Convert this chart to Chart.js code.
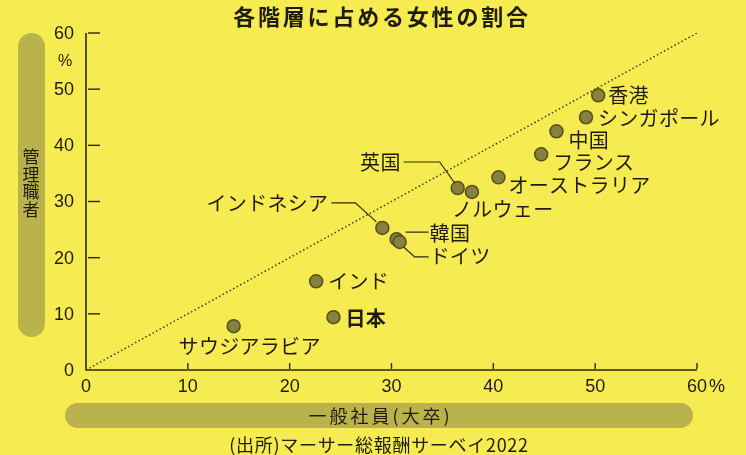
<!DOCTYPE html>
<html lang="ja">
<head>
  <meta charset="UTF-8">
  <title>各階層に占める女性の割合</title>
  <style>
    html, body { margin: 0; padding: 0; background: #f6ec52; }
    #box { position: relative; width: 746px; height: 455px; }
    canvas { display: block; }
  </style>
  <script src="https://cdn.jsdelivr.net/npm/chart.js"></script>
</head>
<body>
  <div id="box"><canvas id="chart" width="746" height="455"></canvas></div>
  <script>
    // Werte (Prozent): x = 一般社員(大卒), y = 管理職者
    const laender = ['香港', 'シンガポール', '中国', 'フランス', 'オーストラリア', '英国', 'ノルウェー',
                     'インドネシア', '韓国', 'ドイツ', 'インド', '日本', 'サウジアラビア'];
    const anteilAllgemein = [50.3, 49.1, 46.2, 44.7, 40.5, 36.5, 37.9, 29.1, 30.5, 30.8, 22.6, 24.3, 14.5];
    const anteilManager   = [48.9, 45.0, 42.5, 38.4, 34.3, 32.4, 31.7, 25.3, 23.3, 22.8, 15.8, 9.4, 7.8];
    const xTicks = [0, 10, 20, 30, 40, 50, 60];
    const yTicks = [0, 10, 20, 30, 40, 50, 60];
    const diagonale = [0, 60];

    const TITEL = '各階層に占める女性の割合';
    const X_TITEL = '一般社員(大卒)';
    const Y_TITEL = '管理職者';
    const QUELLE = '(出所)マーサー総報酬サーベイ2022';

    // Beschriftung: dx/dy relativ zum Punkt, align, optionale Hilfslinie
    const beschriftung = {
      '香港':        {dx: 10, dy: 0},
      'シンガポール': {dx: 12, dy: 1},
      '中国':        {dx: 12, dy: 9},
      'フランス':     {dx: 12, dy: 8},
      'オーストラリア': {dx: 10, dy: 8},
      '英国':        {dx: -57, dy: -26, align: 'right', linie: [[-54, -26], [-18, -26], [-3, -5]]},
      'ノルウェー':   {dx: -20, dy: 17},
      'インドネシア': {dx: -54, dy: -24, align: 'right', linie: [[-51, -25], [-27, -25], [-6, -6]]},
      '韓国':        {dx: 33, dy: -6, linie: [[9, -7], [32, -7]]},
      'ドイツ':      {dx: 30, dy: 14, linie: [[4, 5], [15, 15], [29, 15]]},
      'インド':      {dx: 12, dy: 0},
      '日本':        {dx: 12, dy: 1, bold: true},
      'サウジアラビア': {dx: 16, dy: 20, align: 'center'}
    };

    const JP = '"Noto Sans CJK JP", "Noto Sans", sans-serif';
    const ZAHL = '"Liberation Sans", Arial, sans-serif';
    const TEXT = '#1e1c10';
    const BALKEN = '#bab24a';

    function rundBalken(ctx, x, y, w, h) {
      const r = Math.min(w, h) / 2;
      ctx.beginPath();
      ctx.roundRect(x, y, w, h, r);
      ctx.fill();
    }

    const rahmenPlugin = {
      id: 'rahmen',
      beforeDatasetsDraw(chart) {
        const ctx = chart.ctx;
        const xs = chart.scales.x, ys = chart.scales.y;
        const x0 = xs.getPixelForValue(0), y0 = ys.getPixelForValue(0);
        const x60 = xs.getPixelForValue(60), y60 = ys.getPixelForValue(60);
        ctx.save();
        // Achsentitel-Balken
        ctx.fillStyle = BALKEN;
        rundBalken(ctx, 18, y60, 27, 304);
        rundBalken(ctx, 65, 403, x60 - 4 - 65, 25);

        ctx.fillStyle = TEXT;
        ctx.font = '17px ' + JP;
        ctx.textAlign = 'center';
        ctx.textBaseline = 'middle';
        const yt = Array.from(Y_TITEL);
        yt.forEach((c, i) => ctx.fillText(c, 31, 157 + i * 17.5));
        ctx.font = '18px ' + JP;
        ctx.letterSpacing = '3px';
        ctx.fillText(X_TITEL, (65 + x60 - 4) / 2 + 1.5, 416);

        // Titel
        ctx.font = 'bold 22px ' + JP;
        ctx.letterSpacing = '2.8px';
        ctx.fillText(TITEL, 382, 17);

        // Quelle
        ctx.font = '18px ' + JP;
        ctx.letterSpacing = '0.7px';
        ctx.fillText(QUELLE, 379, 445);
        ctx.letterSpacing = '0px';

        // Achsen
        ctx.strokeStyle = '#2a2818';
        ctx.lineWidth = 1.6;
        ctx.beginPath();
        ctx.moveTo(x0, y60);
        ctx.lineTo(x0, y0);
        ctx.lineTo(x60, y0);
        ctx.stroke();
        ctx.lineWidth = 1.4;
        yTicks.forEach(v => {
          if (v === 0) return;
          const py = ys.getPixelForValue(v);
          ctx.beginPath();
          ctx.moveTo(x0 + 2, py);
          ctx.lineTo(x0 + 14, py);
          ctx.stroke();
        });
        xTicks.forEach(v => {
          if (v === 0) return;
          const px = xs.getPixelForValue(v);
          ctx.beginPath();
          ctx.moveTo(px, y0 - 1);
          ctx.lineTo(px, y0 - 7);
          ctx.stroke();
        });

        // Tick-Beschriftung
        ctx.font = '18px ' + ZAHL;
        ctx.textAlign = 'right';
        yTicks.forEach(v => ctx.fillText(String(v), 74, ys.getPixelForValue(v) + 1));
        ctx.textAlign = 'center';
        xTicks.forEach(v => ctx.fillText(String(v), xs.getPixelForValue(v), 387));
        ctx.textAlign = 'left';
        ctx.fillText('%', x60 + 12, 387);
        ctx.textAlign = 'center';
        ctx.font = '16px ' + ZAHL;
        ctx.fillText('%', 65, 62);
        ctx.restore();
      },
      afterDatasetsDraw(chart) {
        const ctx = chart.ctx;
        const meta = chart.getDatasetMeta(1);
        ctx.save();
        ctx.fillStyle = TEXT;
        ctx.strokeStyle = '#2a2818';
        ctx.lineWidth = 1.2;
        ctx.textBaseline = 'middle';
        meta.data.forEach((pt, i) => {
          const name = laender[i];
          const b = beschriftung[name];
          if (!b) return;
          if (b.linie) {
            ctx.beginPath();
            b.linie.forEach((p, j) => {
              if (j === 0) ctx.moveTo(pt.x + p[0], pt.y + p[1]);
              else ctx.lineTo(pt.x + p[0], pt.y + p[1]);
            });
            ctx.stroke();
          }
          ctx.font = (b.bold ? 'bold ' : '') + '20px ' + JP;
          ctx.letterSpacing = '0.3px';
          ctx.textAlign = b.align || 'left';
          ctx.fillText(name, pt.x + b.dx, pt.y + b.dy);
        });
        ctx.restore();
      }
    };

    new Chart(document.getElementById('chart'), {
      type: 'scatter',
      data: {
        datasets: [
          {
            type: 'line',
            data: diagonale.map(v => ({x: v, y: v})),
            borderColor: '#3d3a1c',
            borderWidth: 1.5,
            borderDash: [1.5, 2.5],
            pointRadius: 0,
            fill: false
          },
          {
            data: anteilAllgemein.map((x, i) => ({x: x, y: anteilManager[i]})),
            pointRadius: 6.5,
            pointBackgroundColor: '#86813c',
            pointBorderColor: '#54501d',
            pointBorderWidth: 1.5
          }
        ]
      },
      options: {
        responsive: false,
        animation: false,
        layout: { padding: {left: 86, right: 49, top: 33, bottom: 85} },
        plugins: { legend: {display: false}, tooltip: {enabled: false}, title: {display: false} },
        scales: {
          x: { type: 'linear', min: 0, max: 60, display: false },
          y: { type: 'linear', min: 0, max: 60, display: false }
        }
      },
      plugins: [rahmenPlugin]
    });
  </script>
</body>
</html>
